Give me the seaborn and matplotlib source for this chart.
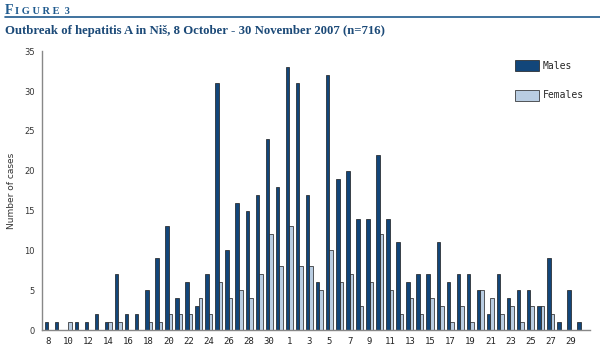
import numpy as np
import pandas as pd
import matplotlib
matplotlib.use("Agg")
import matplotlib.pyplot as plt
import seaborn as sns

# Day of month, 8 Oct - 30 Nov 2007
day_labels = [str(d) for d in range(8, 32)] + [str(d) for d in range(1, 31)]
males = [1, 1, 0, 1, 1, 2, 1, 7, 2, 2, 5, 9, 13, 4, 6, 3, 7, 31, 10, 16, 15, 17, 24, 18,
         33, 31, 17, 6, 32, 19, 20, 14, 14, 22, 14, 11, 6, 7, 7, 11, 6, 7, 7, 5, 2, 7, 4, 5, 5, 3, 9, 1, 5, 1]
females = [0, 0, 1, 0, 0, 0, 1, 1, 0, 0, 1, 1, 2, 2, 2, 4, 2, 6, 4, 5, 4, 7, 12, 8,
           13, 8, 8, 5, 10, 6, 7, 3, 6, 12, 5, 2, 4, 2, 4, 3, 1, 3, 1, 5, 4, 2, 3, 1, 3, 3, 2, 0, 0, 0]
series_names = ["Males", "Females"]
y_ticks = [0, 5, 10, 15, 20, 25, 30, 35]

keys = [f"{i:02d}" for i in range(len(day_labels))]
df = pd.DataFrame({
    "day": keys * 2,
    "cases": males + females,
    "sex": [series_names[0]] * len(keys) + [series_names[1]] * len(keys),
})

sns.set_style("white")
fig = plt.figure(figsize=(6.0, 3.53), dpi=100)
ax = fig.add_axes([0.07, 0.065, 0.913, 0.79])

palette = {"Males": "#12467a", "Females": "#b9cde2"}
sns.barplot(data=df, x="day", y="cases", hue="sex", order=keys,
            hue_order=series_names, palette=palette, width=0.7,
            edgecolor="#1a1a1a", linewidth=0.5, saturation=1, ax=ax)

ax.set_ylim(0, 35)
ax.set_xlim(-0.6, len(keys) - 0.1)
ax.set_yticks(y_ticks)
ax.set_yticklabels([str(v) for v in y_ticks], fontsize=6, color="#333333")
major = list(range(0, len(keys), 2))
ax.set_xticks(major)
ax.set_xticklabels([day_labels[i] for i in major], fontsize=6.5,
                   family="DejaVu Sans Mono", color="#222222")
ax.set_xticks(np.arange(-0.5, len(keys), 1), minor=True)
ax.tick_params(axis="x", which="major", length=0, pad=5)
ax.tick_params(axis="x", which="minor", length=4, width=0.8, color="#555555", direction="out")
ax.tick_params(axis="y", length=3, width=0.8, color="#777777", direction="out", pad=2)
ax.set_xlabel("")
ax.set_ylabel("Number of cases", fontsize=6.5, color="#333333", labelpad=6)
for s in ["top", "right"]:
    ax.spines[s].set_visible(False)
for s in ["left", "bottom"]:
    ax.spines[s].set_color("#888888")
    ax.spines[s].set_linewidth(1.0)

leg = ax.legend(loc="upper right", bbox_to_anchor=(1.005, 1.0), frameon=False,
                prop={"family": "DejaVu Sans Mono", "size": 7},
                handlelength=2.4, handleheight=1.4, labelspacing=1.9, handletextpad=0.4)

# Header
hdr = "#1f5a8e"
fig.text(0.008, 0.959, "F", fontsize=10, family="Liberation Serif", weight="bold", color=hdr)
fig.text(0.025, 0.959, "I G U R E  3", fontsize=7.5, family="Liberation Serif", weight="bold",
         color=hdr)
fig.add_artist(plt.Line2D([0.008, 1.0], [0.952, 0.952], color=hdr, lw=1.2,
                          transform=fig.transFigure))
fig.text(0.008, 0.904, "Outbreak of hepatitis A in Niš, 8 October - 30 November 2007 (n=716)",
         fontsize=9.2, family="Liberation Serif", weight="bold", color="#1c4a78")

fig.savefig("out.png", dpi=100)
